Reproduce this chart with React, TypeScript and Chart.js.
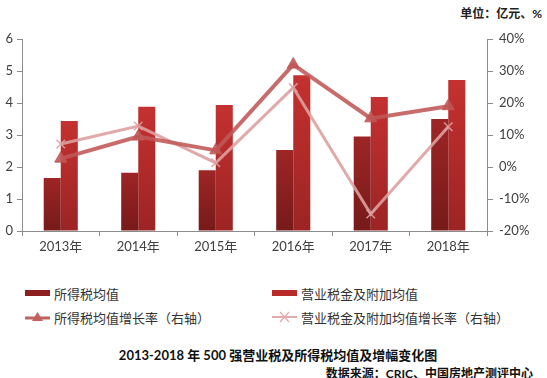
import React, { useEffect, useRef } from "react";
import { Chart, registerables } from "chart.js";

Chart.register(...registerables);

const categories = ["2013年", "2014年", "2015年", "2016年", "2017年", "2018年"];
const incomeTaxAvg = [1.66, 1.82, 1.9, 2.53, 2.95, 3.5];
const businessTaxAvg = [3.44, 3.88, 3.94, 4.87, 4.19, 4.72];
const incomeTaxGrowth = [2.6, 9.5, 5.2, 32.0, 15.2, 19.0];
const businessTaxGrowth = [7.2, 12.8, 1.3, 24.8, -14.7, 12.6];
const leftTicks = { min: 0, max: 6, step: 1 };
const rightTicks = { min: -20, max: 40, step: 10 };

const legendItems = [
  { label: "所得税均值", kind: "bar", color: "#8E1F1F" },
  { label: "营业税金及附加均值", kind: "bar", color: "#B8292A" },
  { label: "所得税均值增长率（右轴）", kind: "tri", color: "#C0625F" },
  { label: "营业税金及附加均值增长率（右轴）", kind: "x", color: "#E2AAAA" },
];

const FONT = "Lato, 'Noto Sans CJK SC', sans-serif";

function barGradient(top: string, bottom: string, values: number[]) {
  return (ctx: any) => {
    const chart = ctx.chart;
    const area = chart.chartArea;
    if (!area || ctx.dataIndex === undefined) return top;
    const y = chart.scales.y.getPixelForValue(values[ctx.dataIndex]);
    const g = chart.ctx.createLinearGradient(0, y, 0, area.bottom);
    g.addColorStop(0, top);
    g.addColorStop(1, bottom);
    return g;
  };
}

function Marker({ kind, color }: { kind: string; color: string }) {
  if (kind === "bar") {
    return (
      <svg width={26} height={14} style={{ display: "block" }}>
        <rect x={0} y={4} width={25} height={6} fill={color} />
      </svg>
    );
  }
  if (kind === "tri") {
    return (
      <svg width={26} height={14} style={{ display: "block" }}>
        <line x1={0} y1={8} x2={25} y2={8} stroke={color} strokeWidth={3} />
        <polygon points="12.5,2 18,11 7,11" fill={color} />
      </svg>
    );
  }
  return (
    <svg width={26} height={14} style={{ display: "block" }}>
      <line x1={0} y1={7} x2={25} y2={7} stroke={color} strokeWidth={2} />
      <line x1={8} y1={2} x2={17} y2={12} stroke={color} strokeWidth={1.2} />
      <line x1={17} y1={2} x2={8} y2={12} stroke={color} strokeWidth={1.2} />
    </svg>
  );
}

export default function App() {
  const canvasRef = useRef<HTMLCanvasElement | null>(null);

  useEffect(() => {
    const canvas = canvasRef.current;
    if (!canvas) return;
    const axisColor = "#8c8c8c";
    const tickFont = { family: FONT, size: 13 };
    const chart = new Chart(canvas, {
      type: "bar",
      data: {
        labels: categories,
        datasets: [
          {
            type: "line",
            label: "所得税均值增长率（右轴）",
            data: incomeTaxGrowth,
            yAxisID: "y1",
            borderColor: "rgba(192,88,86,0.88)",
            backgroundColor: "rgba(192,88,86,0.9)",
            borderWidth: 4,
            pointStyle: "triangle",
            pointRadius: 7,
            pointBorderWidth: 1,
            order: 0,
          },
          {
            type: "line",
            label: "营业税金及附加均值增长率（右轴）",
            data: businessTaxGrowth,
            yAxisID: "y1",
            borderColor: "rgba(222,160,160,0.9)",
            backgroundColor: "rgba(222,160,160,0.9)",
            borderWidth: 3,
            pointStyle: "crossRot",
            pointRadius: 6,
            pointBorderWidth: 1.5,
            order: 1,
          },
          {
            type: "bar",
            label: "所得税均值",
            data: incomeTaxAvg,
            yAxisID: "y",
            backgroundColor: barGradient("#9E2525", "#761A1A", incomeTaxAvg),
            categoryPercentage: 0.44,
            barPercentage: 1,
            order: 2,
          },
          {
            type: "bar",
            label: "营业税金及附加均值",
            data: businessTaxAvg,
            yAxisID: "y",
            backgroundColor: barGradient("#C43130", "#9C2424", businessTaxAvg),
            categoryPercentage: 0.44,
            barPercentage: 1,
            order: 2,
          },
        ],
      },
      options: {
        responsive: false,
        animation: false,
        layout: { padding: { top: 39, left: 0, right: 0, bottom: 0 } },
        plugins: { legend: { display: false }, tooltip: { enabled: false } },
        scales: {
          x: {
            type: "category",
            offset: true,
            grid: {
              offset: true,
              drawOnChartArea: false,
              drawTicks: true,
              tickLength: 5,
              color: axisColor,
            },
            border: { color: axisColor, width: 1 },
            ticks: { color: "#404040", font: tickFont, padding: 3, maxRotation: 0 },
            afterFit: (s: any) => {
              s.height = 29;
            },
          },
          y: {
            position: "left",
            min: leftTicks.min,
            max: leftTicks.max,
            ticks: { stepSize: leftTicks.step, color: "#404040", font: tickFont, padding: 4 },
            grid: { drawOnChartArea: false, tickLength: 5, color: axisColor },
            border: { color: axisColor, width: 1 },
            afterFit: (s: any) => {
              s.width = 22;
            },
          },
          y1: {
            position: "right",
            min: rightTicks.min,
            max: rightTicks.max,
            ticks: {
              stepSize: rightTicks.step,
              color: "#404040",
              font: tickFont,
              padding: 6,
              callback: (v: any) => v + "%",
            },
            grid: { drawOnChartArea: false, tickLength: 6, color: axisColor },
            border: { color: axisColor, width: 1 },
            afterFit: (s: any) => {
              s.width = 60;
            },
          },
        },
      },
    } as any);
    return () => chart.destroy();
  }, []);

  const legendText: React.CSSProperties = {
    fontFamily: FONT,
    fontSize: 13,
    color: "#333",
    marginLeft: 3,
    whiteSpace: "nowrap",
  };

  const cell = (i: number, left: number, top: number) => (
    <div
      key={i}
      style={{ position: "absolute", left, top, display: "flex", alignItems: "center", height: 16 }}
    >
      <Marker kind={legendItems[i].kind} color={legendItems[i].color} />
      <span style={legendText}>{legendItems[i].label}</span>
    </div>
  );

  return (
    <div
      style={{
        position: "fixed",
        left: 0,
        top: 0,
        width: 547,
        height: 378,
        background: "#fff",
        overflow: "hidden",
      }}
    >
      <div
        style={{
          position: "absolute",
          right: 5,
          top: 4,
          fontFamily: FONT,
          fontWeight: "bold",
          fontSize: 12,
          color: "#222",
          whiteSpace: "nowrap",
        }}
      >
        单位：亿元、%
      </div>
      <canvas
        ref={canvasRef}
        width={547}
        height={260}
        style={{ position: "absolute", left: 0, top: 0, width: 547, height: 260 }}
      />
      {cell(0, 25, 285)}
      {cell(1, 272, 285)}
      {cell(2, 25, 309)}
      {cell(3, 272, 309)}
      <div
        style={{
          position: "absolute",
          left: 0,
          width: 556,
          top: 345,
          textAlign: "center",
          fontFamily: FONT,
          fontWeight: "bold",
          fontSize: 13,
          color: "#111",
          whiteSpace: "nowrap",
        }}
      >
        2013-2018 年 500 强营业税及所得税均值及增幅变化图
      </div>
      <div
        style={{
          position: "absolute",
          right: 14,
          top: 364,
          fontFamily: FONT,
          fontWeight: "bold",
          fontSize: 12,
          color: "#111",
          whiteSpace: "nowrap",
        }}
      >
        数据来源：CRIC、中国房地产测评中心
      </div>
    </div>
  );
}
